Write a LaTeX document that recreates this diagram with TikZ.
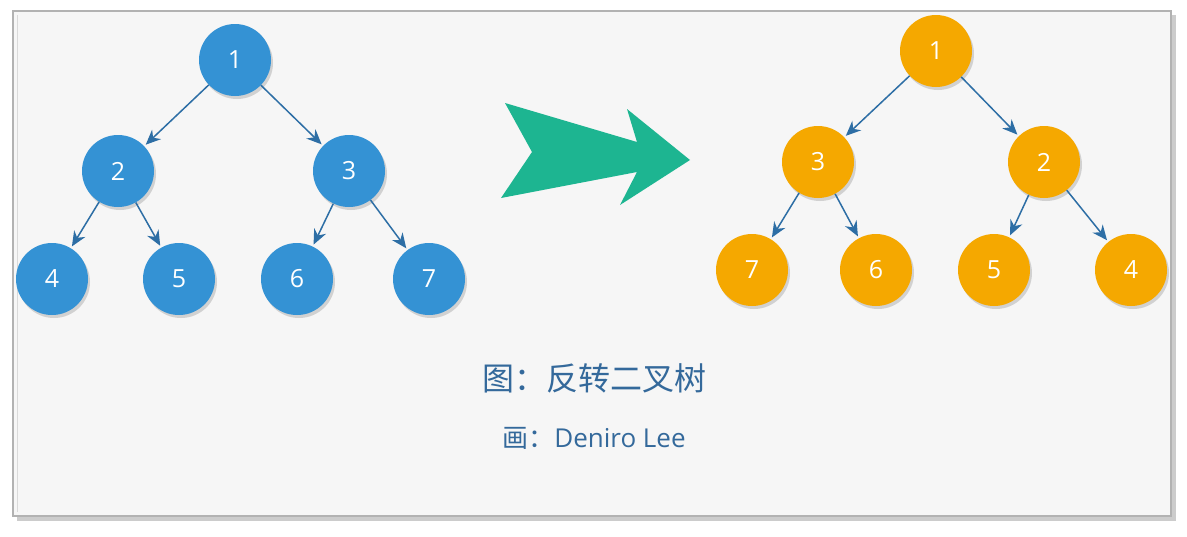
\documentclass[tikz,border=0pt]{standalone}
\usepackage{fontspec}
\setmainfont{Open Sans}
\newfontfamily\cjk{Noto Sans CJK SC}
\usetikzlibrary{arrows.meta,shadows}
\definecolor{bluenode}{RGB}{52,146,212}
\definecolor{orangenode}{RGB}{245,168,0}
\definecolor{edgeblue}{RGB}{45,110,165}
\definecolor{bigarrow}{RGB}{29,181,145}
\definecolor{captionblue}{RGB}{52,105,155}
\definecolor{panel}{RGB}{246,246,246}
\tikzset{
  treenode/.style={circle, minimum size=72pt, inner sep=0pt, text=white,
    font=\fontsize{25}{27}\selectfont,
    drop shadow={shadow xshift=2pt, shadow yshift=-3pt, opacity=0.25, fill=black!60}},
  bnode/.style={treenode, fill=bluenode},
  onode/.style={treenode, fill=orangenode},
  edge/.style={draw=edgeblue, line width=1.5pt, -{Stealth[length=15pt,width=13pt]}, shorten >=2pt}
}
\begin{document}
\begin{tikzpicture}[x=1pt,y=-1pt]
\useasboundingbox (0,0) rectangle (1187,536);
\fill[white] (0,0) rectangle (1187,536);
% frame with shadow
\fill[black!20] (17,15) rectangle (1176,521);
\fill[panel] (13,11) rectangle (1171,516);
\draw[black!30, line width=1.5pt] (13,11) rectangle (1171,516);
\draw[black!15, line width=1pt] (17,15) -- (17,512);
% left tree
\node[bnode] (a1) at (235,60) {1};
\node[bnode] (a2) at (118,171) {2};
\node[bnode] (a3) at (349,171) {3};
\node[bnode] (a4) at (52,279) {4};
\node[bnode] (a5) at (179,279) {5};
\node[bnode] (a6) at (297,279) {6};
\node[bnode] (a7) at (429,279) {7};
\draw[edge] (a1) -- (a2);
\draw[edge] (a1) -- (a3);
\draw[edge] (a2) -- (a4);
\draw[edge] (a2) -- (a5);
\draw[edge] (a3) -- (a6);
\draw[edge] (a3) -- (a7);
% big arrow
\fill[bigarrow] (505,103) -- (637,142) -- (627,109) -- (690,160) -- (620,205) -- (637,172) -- (501,198) -- (532,152) -- cycle;
% right tree
\node[onode] (b1) at (936,51) {1};
\node[onode] (b3) at (818,162) {3};
\node[onode] (b2) at (1044,162) {2};
\node[onode] (b7) at (752,270) {7};
\node[onode] (b6) at (876,270) {6};
\node[onode] (b5) at (994,270) {5};
\node[onode] (b4) at (1131,270) {4};
\draw[edge] (b1) -- (b3);
\draw[edge] (b1) -- (b2);
\draw[edge] (b3) -- (b7);
\draw[edge] (b3) -- (b6);
\draw[edge] (b2) -- (b5);
\draw[edge] (b2) -- (b4);
% captions
\node[text=captionblue, font=\cjk\fontsize{32}{34}\selectfont] (cap) at (594,378) {图：反转二叉树};
\node[text=captionblue, font=\fontsize{26}{29}\selectfont] (auth) at (594,438) {{\cjk 画：}Deniro Lee};
\end{tikzpicture}
\end{document}
